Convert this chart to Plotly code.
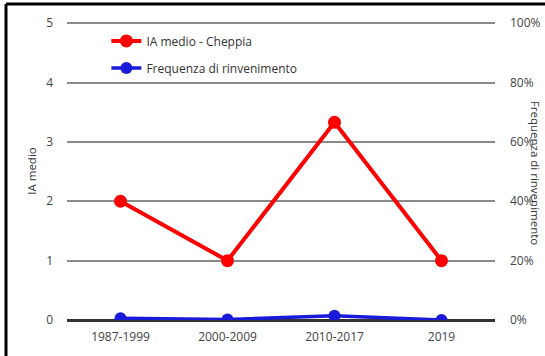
import plotly.graph_objects as go

periods = ["1987-1999", "2000-2009", "2010-2017", "2019"]
ia_medio = [2.0, 1.0, 3.33, 1.0]
frequenza = [0.006, 0.002, 0.014, 0.0]
left_ticks = [0, 1, 2, 3, 4, 5]
right_ticks = [0, 0.2, 0.4, 0.6, 0.8, 1.0]
right_labels = ["0%", "20%", "40%", "60%", "80%", "100%"]

FONT = "Open Sans"
TXT = "#444444"

fig = go.Figure()
fig.add_trace(go.Scatter(
    x=periods, y=ia_medio, name="IA medio - Cheppia", mode="lines+markers",
    line=dict(color="#ff0000", width=4), marker=dict(color="#ff0000", size=13),
    legendgroup="a", yaxis="y"))
fig.add_trace(go.Scatter(
    x=periods, y=frequenza, name="Frequenza di rinvenimento", mode="lines+markers",
    line=dict(color="#1a1adb", width=3.5), marker=dict(color="#1a1adb", size=12),
    legendgroup="b", yaxis="y2"))

fig.update_layout(
    width=545, height=356,
    margin=dict(l=67, r=50, t=22, b=36, autoexpand=False),
    paper_bgcolor="white", plot_bgcolor="white",
    font=dict(family=FONT, size=12, color=TXT),
    showlegend=True,
    legend=dict(x=0.092, y=0.985, xanchor="left", yanchor="top",
                traceorder="grouped", tracegroupgap=8,
                bgcolor="rgba(0,0,0,0)", font=dict(size=12, color="#333333")),
    xaxis=dict(type="category", showgrid=False, zeroline=False, showline=False,
               ticks="", ticklabelstandoff=8, tickfont=dict(size=12, color=TXT),
               range=[-0.5, 3.5], automargin=False),
    yaxis=dict(range=[0, 5.02], tickvals=left_ticks, showgrid=True,
               gridcolor="#8a8a8a", gridwidth=1.5, zeroline=True,
               zerolinecolor="#333333", zerolinewidth=2.5, automargin=False,
               ticks="", ticklabelstandoff=13, tickfont=dict(size=12, color=TXT),
               title=dict(text="IA medio", font=dict(size=11.5, color="#333333"), standoff=7)),
    yaxis2=dict(range=[0, 1.004], overlaying="y", side="right", tickvals=right_ticks,
                ticktext=right_labels, showgrid=False, zeroline=False, ticks="",
                automargin=False,
                ticklabelstandoff=14, tickfont=dict(size=12, color=TXT)),
    annotations=[dict(text="Frequenza di rinvenimento", textangle=90,
                      xref="paper", yref="paper", x=1.095, y=0.495,
                      xanchor="center", yanchor="middle", showarrow=False,
                      font=dict(size=11.5, color="#333333"))],
    shapes=[
        dict(type="line", xref="paper", yref="paper", x0=-0.1425, x1=1.2, y0=1.0604, y1=1.0604,
             line=dict(color="black", width=3)),
        dict(type="line", xref="paper", yref="paper", x0=-0.1425, x1=-0.1425, y0=1.0604, y1=-0.2,
             line=dict(color="black", width=3)),
    ],
)

post = ("document.documentElement.style.margin='0';"
        "document.documentElement.style.overflow='hidden';"
        "document.body.style.margin='0';"
        "document.body.style.overflow='hidden';")
fig.write_html("out.html", config={"displayModeBar": False}, post_script=post)
